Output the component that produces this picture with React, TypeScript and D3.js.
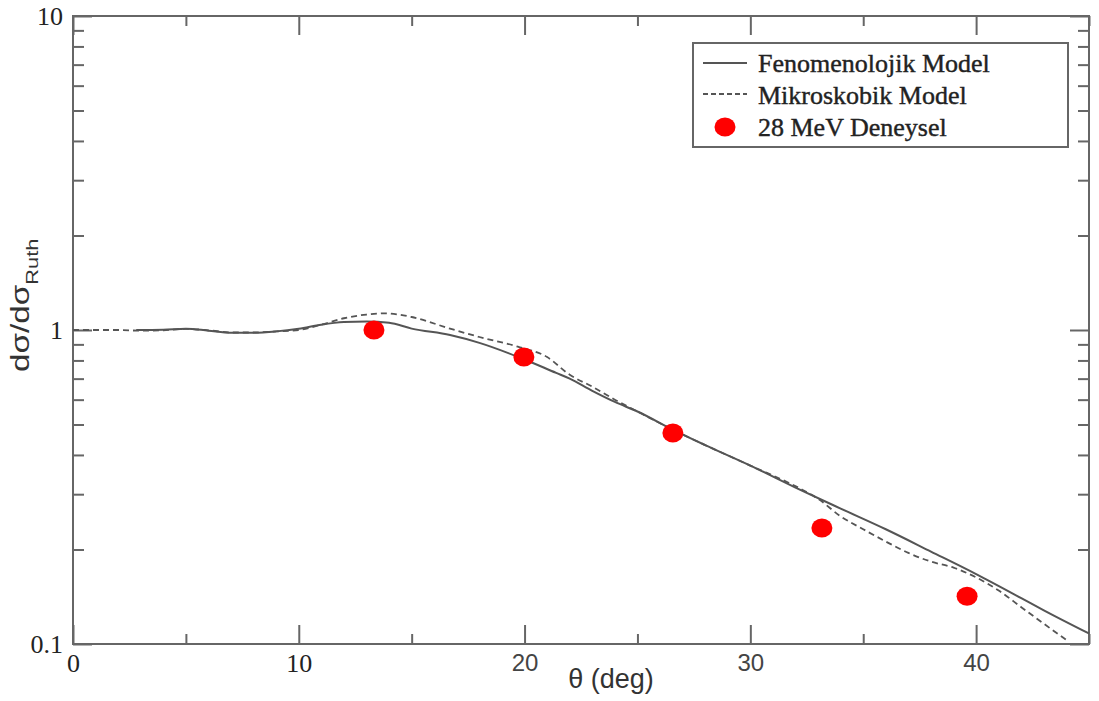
import React, { useEffect, useRef } from "react";
import * as d3 from "d3";

// angle (deg) and d(sigma)/d(sigma_Ruth)
const fenoX = [2.8, 4, 5, 6, 7, 8, 9, 10, 11, 12, 13, 14, 15, 16.7, 18, 19.7, 21.4, 22, 23, 24, 25, 26.6, 28, 30, 32, 34, 36, 38, 40, 42, 43, 45];
const fenoY = [1.0, 1.002, 1.01, 0.995, 0.98, 0.98, 0.99, 1.01, 1.04, 1.06, 1.065, 1.055, 1.01, 0.964, 0.91, 0.822, 0.73, 0.7, 0.64, 0.59, 0.55, 0.48, 0.43, 0.37, 0.315, 0.27, 0.232, 0.197, 0.167, 0.14, 0.128, 0.108];

const mikroX = [0, 2, 3, 4, 5, 6, 7, 8, 9, 10, 11, 12, 13, 13.8, 15, 16.7, 18, 19.7, 21, 22, 23, 24, 25, 26.6, 28, 30, 32.3, 33, 34, 35, 36, 37, 38, 39, 40, 41, 42, 43, 44];
const mikroY = [1.0, 1.0, 0.995, 0.998, 1.008, 0.998, 0.982, 0.982, 0.99, 1.0, 1.04, 1.09, 1.12, 1.13, 1.1, 1.01, 0.95, 0.885, 0.82, 0.72, 0.66, 0.6, 0.55, 0.48, 0.43, 0.37, 0.31, 0.29, 0.255, 0.232, 0.212, 0.195, 0.183, 0.175, 0.163, 0.148, 0.131, 0.116, 0.103];

const expX = [13.33, 19.97, 26.57, 33.17, 39.6];
const expY = [1.0, 0.82, 0.47, 0.234, 0.142];

const xTicks = [0, 10, 20, 30, 40];
const xMinor = [5, 15, 25, 35, 45];
const legendLabels = ["Fenomenolojik Model", "Mikroskobik Model", "28 MeV Deneysel"];

const W = 1099;
const H = 701;
const serif = "'Liberation Serif', 'Times New Roman', serif";
const sans = "'Liberation Sans', Arial, sans-serif";

export default function App() {
  const ref = useRef<SVGSVGElement>(null);

  useEffect(() => {
    const svg = d3.select(ref.current);
    svg.selectAll("*").remove();

    const left = 73, right = 1089, top = 16, bottom = 644;
    const x = d3.scaleLinear().domain([0, 45]).range([left, right]);
    const y = d3.scaleLog().domain([0.1, 10]).range([bottom, top]);
    const axisColor = "#666";

    const yAll = y.ticks();
    const yMajor = [0.1, 1, 10];
    const yMinor = yAll.filter(v => !yMajor.some(m => Math.abs(m - v) < 1e-9));

    // minor ticks first (no labels)
    const minorAxes = [
      { a: d3.axisBottom(x).tickValues(xMinor).tickSize(-10), t: `translate(0,${bottom})` },
      { a: d3.axisTop(x).tickValues(xMinor).tickSize(-10), t: `translate(0,${top})` },
      { a: d3.axisLeft(y).tickValues(yMinor).tickSize(-11), t: `translate(${left},0)` },
      { a: d3.axisRight(y).tickValues(yMinor).tickSize(-11), t: `translate(${right},0)` },
    ];
    minorAxes.forEach(m => {
      const g = svg.append("g").attr("transform", m.t).call(m.a.tickFormat(() => ""));
      g.select(".domain").remove();
      g.selectAll("line").attr("stroke", axisColor).attr("stroke-width", 2);
    });

    // major ticks
    const gx = svg.append("g").attr("transform", `translate(0,${bottom})`)
      .call(d3.axisBottom(x).tickValues(xTicks).tickSize(-19).tickFormat(d3.format("d")));
    gx.select(".domain").remove();
    gx.selectAll("line").attr("stroke", axisColor).attr("stroke-width", 2);
    gx.selectAll("text")
      .attr("y", 10)
      .attr("fill", (d: any) => (d >= 20 ? "#444" : "#222"))
      .style("font-family", (d: any) => (d >= 20 ? sans : serif))
      .style("font-size", (d: any) => (d >= 20 ? "24px" : "26px"));

    const gxt = svg.append("g").attr("transform", `translate(0,${top})`)
      .call(d3.axisTop(x).tickValues(xTicks).tickSize(-19).tickFormat(() => ""));
    gxt.select(".domain").remove();
    gxt.selectAll("line").attr("stroke", axisColor).attr("stroke-width", 2);

    const gy = svg.append("g").attr("transform", `translate(${left},0)`)
      .call(d3.axisLeft(y).tickValues(yMajor).tickSize(-19).tickPadding(10).tickFormat(d => String(d)));
    gy.select(".domain").remove();
    gy.selectAll("line").attr("stroke", axisColor).attr("stroke-width", 2);
    gy.selectAll("text").attr("fill", "#222").style("font-family", serif).style("font-size", "26px");

    const gyr = svg.append("g").attr("transform", `translate(${right},0)`)
      .call(d3.axisRight(y).tickValues(yMajor).tickSize(-19).tickFormat(() => ""));
    gyr.select(".domain").remove();
    gyr.selectAll("line").attr("stroke", axisColor).attr("stroke-width", 2);

    // frame
    svg.append("rect")
      .attr("x", left).attr("y", top).attr("width", right - left).attr("height", bottom - top)
      .attr("fill", "none").attr("stroke", axisColor).attr("stroke-width", 2);

    // curves
    const line = d3.line<[number, number]>().x(d => x(d[0])).y(d => y(d[1])).curve(d3.curveMonotoneX);
    const feno = fenoX.map((v, i) => [v, fenoY[i]] as [number, number]);
    const mikro = mikroX.map((v, i) => [v, mikroY[i]] as [number, number]);

    svg.append("path").attr("d", line(feno)).attr("fill", "none")
      .attr("stroke", "#555").attr("stroke-width", 2);
    svg.append("path").attr("d", line(mikro)).attr("fill", "none")
      .attr("stroke", "#555").attr("stroke-width", 1.8).attr("stroke-dasharray", "6,4");

    svg.append("g").selectAll("ellipse").data(expX).enter().append("ellipse")
      .attr("cx", d => x(d)).attr("cy", (d, i) => y(expY[i]))
      .attr("rx", 10.5).attr("ry", 9.5).attr("fill", "#ff0000");

    // legend
    const lg = svg.append("g");
    lg.append("rect").attr("x", 693).attr("y", 43).attr("width", 375).attr("height", 104)
      .attr("fill", "#fff").attr("stroke", axisColor).attr("stroke-width", 2);
    lg.append("line").attr("x1", 703).attr("x2", 747).attr("y1", 63).attr("y2", 63)
      .attr("stroke", "#555").attr("stroke-width", 2);
    lg.append("line").attr("x1", 703).attr("x2", 747).attr("y1", 94).attr("y2", 94)
      .attr("stroke", "#555").attr("stroke-width", 1.8).attr("stroke-dasharray", "5,3");
    lg.append("ellipse").attr("cx", 725).attr("cy", 127).attr("rx", 10.5).attr("ry", 9.5).attr("fill", "#ff0000");
    legendLabels.forEach((t, i) => {
      lg.append("text").attr("x", 758).attr("y", 72 + i * 32)
        .attr("fill", "#222").attr("stroke", "#222").attr("stroke-width", 0.4)
        .style("font-family", serif).style("font-size", "26px").text(t);
    });

    // axis titles
    svg.append("text").attr("x", 611).attr("y", 688).attr("text-anchor", "middle")
      .attr("fill", "#333").style("font-family", sans).style("font-size", "27px").text("θ (deg)");

    const yl = svg.append("text").attr("transform", "translate(29,372) rotate(-90) scale(1.28,1)")
      .attr("fill", "#333").style("font-family", sans).style("font-size", "26px");
    yl.append("tspan").text("dσ/dσ");
    yl.append("tspan").attr("dy", 9).style("font-size", "17px").text("Ruth");
  }, []);

  return (
    <svg ref={ref} width={W} height={H}
      style={{ position: "absolute", left: 0, top: 0, background: "#fff" }} />
  );
}
